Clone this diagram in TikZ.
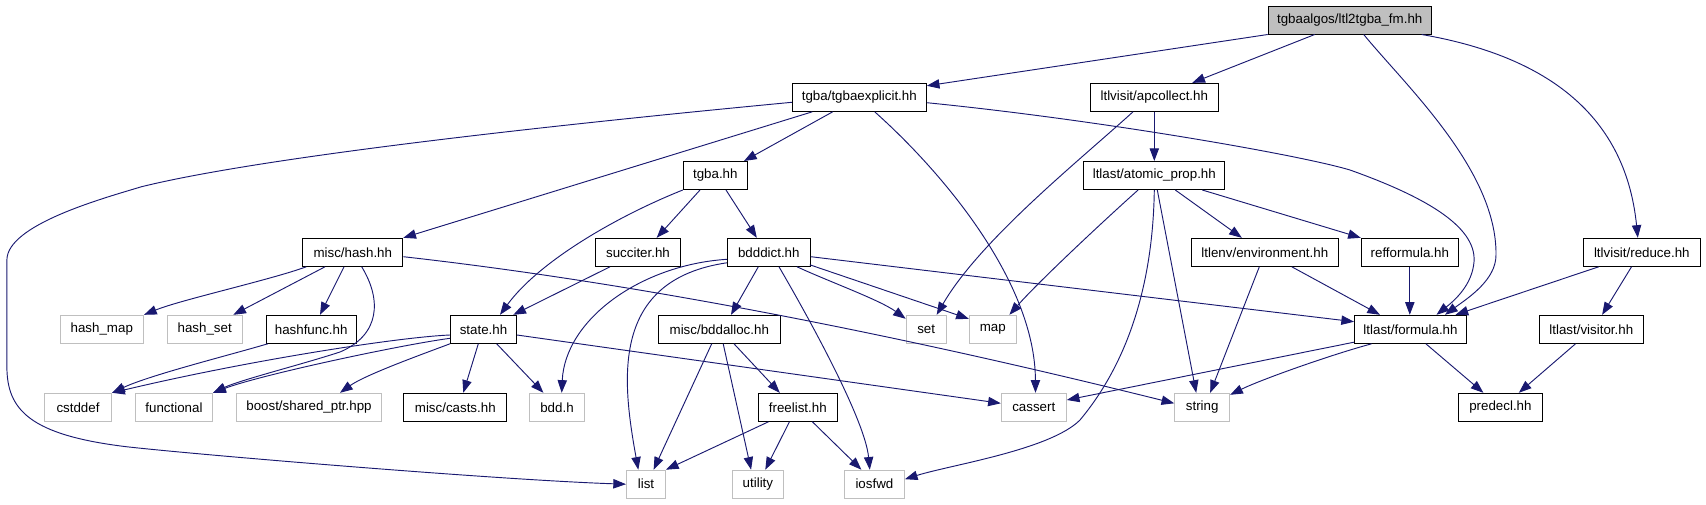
\documentclass[tikz,border=0pt]{standalone}
\usepackage{fontspec}
\setmainfont{Liberation Sans}
\usetikzlibrary{arrows.meta,calc}
\definecolor{edgeblue}{HTML}{191970}
\definecolor{extgray}{HTML}{BFBFBF}
\tikzset{
  nd/.style={draw=black, line width=0.75pt, fill=white, minimum height=21pt, inner sep=0pt,
    font=\fontsize{10pt}{12pt}\selectfont, text=black},
  ext/.style={nd, draw=extgray},
  root/.style={nd, fill=extgray},
  bw/.style={minimum width=#1*0.75pt},
  edge/.style={draw=edgeblue, line width=0.7pt, -{Triangle[length=9.5pt,width=7pt]}, fill=none}
}
\begin{document}
\begin{tikzpicture}[x=0.75pt,y=-0.75pt]
\useasboundingbox (0,0) rectangle (1706,504);
% nodes
\node[root,bw=163] (top) at (1349.7,20) {tgbaalgos/ltl2tgba\_fm.hh};
\node[nd,bw=134] (texp) at (859.3,97.3) {tgba/tgbaexplicit.hh};
\node[nd,bw=128] (apc) at (1154.3,97.3) {ltlvisit/apcollect.hh};
\node[nd,bw=64] (tgba) at (715.3,175.5) {tgba.hh};
\node[nd,bw=141] (atom) at (1154.3,175.5) {ltlast/atomic\_prop.hh};
\node[nd,bw=100] (hash) at (352.8,252.3) {misc/hash.hh};
\node[nd,bw=85] (succ) at (638,252.3) {succiter.hh};
\node[nd,bw=83] (bdd) at (768.8,252.3) {bdddict.hh};
\node[nd,bw=147] (env) at (1264.8,252.3) {ltlenv/environment.hh};
\node[nd,bw=97] (ref) at (1409.8,252.3) {refformula.hh};
\node[nd,bw=117] (red) at (1641.8,252.3) {ltlvisit/reduce.hh};
\node[ext,bw=83.5] (hmap) at (101.8,329.3) {hash\_map};
\node[ext,bw=75] (hset) at (204.7,329.3) {hash\_set};
\node[nd,bw=90] (hfunc) at (311.2,329.3) {hashfunc.hh};
\node[nd,bw=66] (state) at (483.5,329.3) {state.hh};
\node[nd,bw=122] (balloc) at (719.3,329.3) {misc/bddalloc.hh};
\node[ext,bw=40] (set) at (926.2,329.3) {set};
\node[ext,bw=47] (map) at (992.8,329.3) {map};
\node[nd,bw=112] (form) at (1410.5,329.3) {ltlast/formula.hh};
\node[nd,bw=104] (visit) at (1591.3,329.3) {ltlast/visitor.hh};
\node[ext,bw=67.3] (cstd) at (78,407.3) {cstddef};
\node[ext,bw=77.3] (func) at (174,407.3) {functional};
\node[ext,bw=145.3] (boost) at (309,407.3) {boost/shared\_ptr.hpp};
\node[nd,bw=102.7] (casts) at (455.3,407.3) {misc/casts.hh};
\node[ext,bw=55.5] (bddh) at (557,407.3) {bdd.h};
\node[nd,bw=79] (free) at (797.8,407.3) {freelist.hh};
\node[ext,bw=65] (cass) at (1033.8,407.3) {cassert};
\node[ext,bw=55] (str) at (1202.2,407.3) {string};
\node[nd,bw=84] (pre) at (1500.4,407.3) {predecl.hh};
\node[ext,bw=39] (list) at (646,484.2) {list};
\node[ext,bw=51] (util) at (757.9,484.2) {utility};
\node[ext,bw=60] (ios) at (874.4,484.2) {iosfwd};
% edges from top
\draw[edge] (top.south west) -- ($(texp.north east)+(0,3)$);
\draw[edge] ($(top.south)+(-35,0)$) -- ($(apc.north)+(38,0)$);
\draw[edge] ($(top.south)+(14,0)$) .. controls (1405,85) and (1497,170) .. (1496,255) .. controls (1496,280) and (1468,298) .. ($(form.north)+(34.5,0)$);
\draw[edge] ($(top.south east)+(-10,0)$) .. controls (1540,55) and (1625,110) .. ($(red.north)+(-4,0)$);
% tgbaexplicit
\draw[edge] ($(texp.west)+(0,5)$) .. controls (500,130) and (250,160) .. (141.6,186.7) .. controls (101.6,198.7) and (6.9,225) .. (6.9,260) -- (6.9,366.7) .. controls (6.9,410) and (30,435) .. (126.3,446.7) .. controls (200,455) and (500,480) .. (list.west);
\draw[edge] ($(texp.south)+(-47,0)$) -- (hash.north east);
\draw[edge] ($(texp.south)+(-26.6,0)$) -- ($(tgba.north east)+(-3.8,0)$);
\draw[edge] ($(texp.south)+(15.4,0)$) .. controls (940,170) and (1035,280) .. ($(cass.north)+(1.7,0)$);
\draw[edge] ($(texp.east)+(0,5.4)$) .. controls (1100,120) and (1300,155) .. (1350,170) .. controls (1420,195) and (1477,225) .. (1474,262) .. controls (1472,285) and (1455,300) .. ($(form.north)+(26,0)$);
% apcollect
\draw[edge] ($(apc.south)+(-21.3,0)$) .. controls (1080,160) and (980,240) .. ($(set.north)+(10.5,0)$);
\draw[edge] (apc.south) -- (atom.north);
% atomic_prop
\draw[edge] ($(atom.south)+(-16.2,0)$) .. controls (1110,215) and (1040,280) .. ($(map.north)+(16.6,0)$);
\draw[edge] (atom.south) .. controls (1153,280) and (1130,360) .. (1080,420) .. controls (1050,450) and (950,465) .. ($(ios.east)+(0,-5)$);
\draw[edge] ($(atom.south)+(3,0)$) -- ($(str.north)+(-6,0)$);
\draw[edge] ($(atom.south)+(21,0)$) -- ($(env.north)+(-23,0)$);
\draw[edge] ($(atom.south)+(48,0)$) -- (ref.north west);
% tgba
\draw[edge] (tgba.south west) .. controls (620,215) and (540,260) .. ($(state.north)+(16.5,0)$);
\draw[edge] ($(tgba.south)+(-15.3,0)$) -- ($(succ.north)+(18.7,0)$);
\draw[edge] ($(tgba.south)+(10.7,0)$) -- ($(bdd.north)+(-12,0)$);
\draw[edge] ($(succ.south)+(-28,0)$) -- ($(state.north)+(29.8,0)$);
% hash
\draw[edge] ($(hash.south west)+(4,0)$) .. controls (270,280) and (180,300) .. (hmap.north east);
\draw[edge] ($(hash.south)+(-27.8,0)$) -- ($(hset.north)+(28.6,0)$);
\draw[edge] ($(hash.south)+(-8.8,0)$) -- ($(hfunc.north)+(8.8,0)$);
\draw[edge] ($(hash.south)+(8.9,0)$) .. controls (382,300) and (380,335) .. (340,352) .. controls (300,365) and (240,380) .. (func.north east);
\draw[edge] ($(hash.east)+(0,4.4)$) .. controls (700,290) and (1000,360) .. ($(str.west)+(0,-4)$);
% bdddict
\draw[edge] ($(bdd.west)+(0,7)$) .. controls (640,265) and (565,320) .. ($(bddh.north)+(4.7,0)$);
\draw[edge] ($(bdd.south west)+(0,-4)$) .. controls (610,280) and (622,380) .. ($(list.north)+(-7.7,0)$);
\draw[edge] ($(bdd.south)+(-10.5,0)$) -- ($(balloc.north)+(11.7,0)$);
\draw[edge] ($(bdd.south)+(10.2,0)$) .. controls (810,320) and (865,420) .. ($(ios.north)+(-4.6,0)$);
\draw[edge] ($(bdd.south)+(28.2,0)$) .. controls (830,282) and (880,300) .. ($(set.north west)+(0,4)$);
\draw[edge] ($(bdd.south east)+(-1,-2)$) -- ($(map.north west)+(0,4)$);
\draw[edge] ($(bdd.east)+(0,4.4)$) -- ($(form.west)+(0,-7.6)$);
% environment, refformula, reduce
\draw[edge] ($(env.south)+(27,0)$) -- ($(form.north)+(-30.5,0)$);
\draw[edge] ($(env.south)+(-5.5,0)$) -- ($(str.north)+(8,0)$);
\draw[edge] (ref.south) -- (ref.south |- form.north);
\draw[edge] ($(red.south)+(-43.2,0)$) -- ($(form.north east)+(-11.5,0)$);
\draw[edge] ($(red.south)+(-10.3,0)$) -- ($(visit.north)+(10.8,0)$);
% hashfunc, state
\draw[edge] ($(hfunc.south west)+(2,0)$) .. controls (230,355) and (150,375) .. (cstd.north east);
\draw[edge] ($(state.west)+(0,5.7)$) .. controls (400,337) and (250,360) .. (cstd.north east);
\draw[edge] ($(state.west)+(0,9)$) .. controls (400,345) and (260,375) .. (func.north east);
\draw[edge] (state.south west) .. controls (420,355) and (365,375) .. ($(boost.north)+(31,0)$);
\draw[edge] ($(state.south)+(-5.2,0)$) -- ($(casts.north)+(8,0)$);
\draw[edge] ($(state.south)+(13.2,0)$) -- ($(bddh.north)+(-13.6,0)$);
\draw[edge] ($(state.east)+(0,5.7)$) -- ($(cass.west)+(0,-4)$);
% bddalloc
\draw[edge] ($(balloc.south)+(-7.6,0)$) -- ($(list.north)+(7.6,0)$);
\draw[edge] ($(balloc.south)+(3.9,0)$) -- ($(util.north)+(-6.8,0)$);
\draw[edge] ($(balloc.south)+(14.7,0)$) -- ($(free.north)+(-18,0)$);
% formula, visitor
\draw[edge] ($(form.south west)+(0,-1.6)$) -- ($(cass.east)+(0,-7.3)$);
\draw[edge] ($(form.south)+(-38.9,0)$) .. controls (1330,355) and (1260,380) .. ($(str.north east)+(0,2)$);
\draw[edge] ($(form.south)+(15.4,0)$) -- ($(pre.north)+(-17,0)$);
\draw[edge] ($(visit.south)+(-15.8,0)$) -- ($(pre.north)+(18.4,0)$);
% freelist
\draw[edge] ($(free.south)+(-29.4,0)$) -- (list.north east);
\draw[edge] ($(free.south)+(-8.4,0)$) -- ($(util.north)+(7.4,0)$);
\draw[edge] ($(free.south)+(14.6,0)$) -- ($(ios.north)+(-13,0)$);
\end{tikzpicture}
\end{document}
